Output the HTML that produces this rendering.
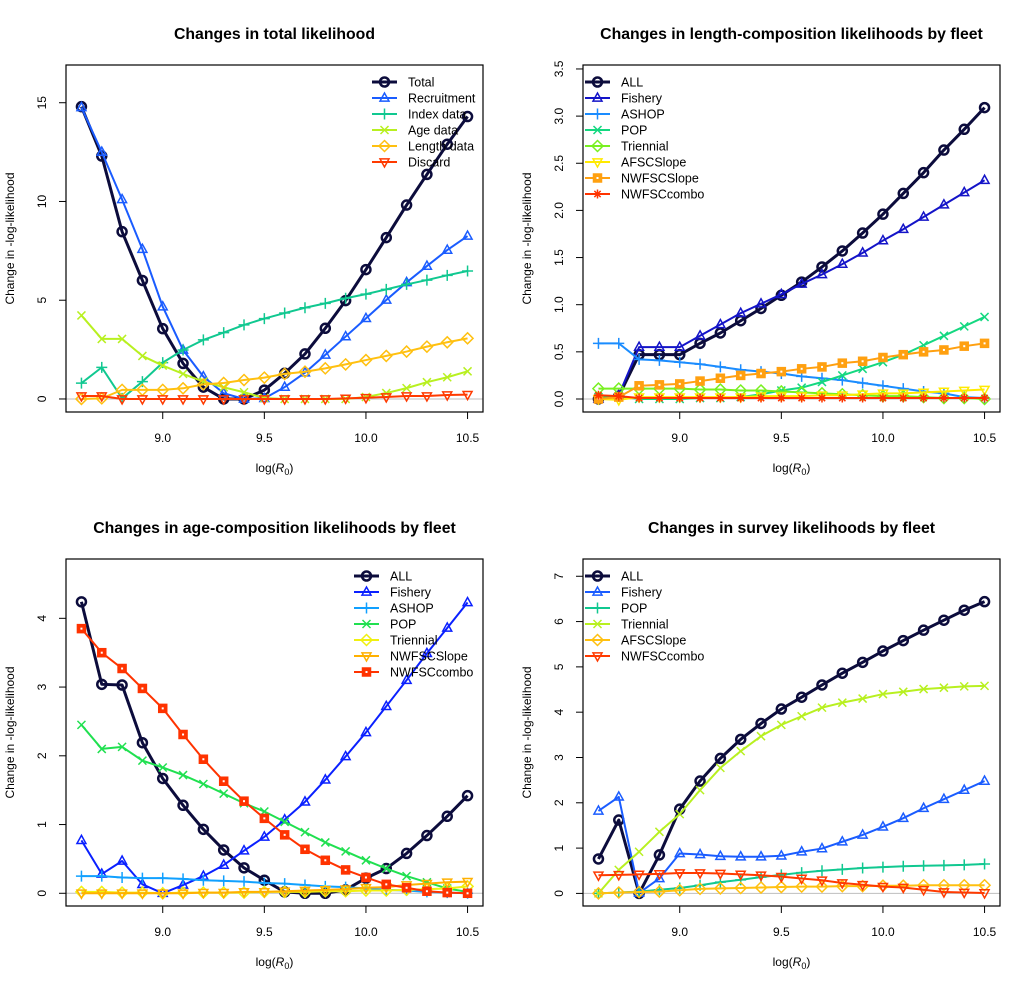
<!DOCTYPE html>
<html><head><meta charset="utf-8"><style>
body{margin:0;background:#fff;}
svg{display:block;font-family:"Liberation Sans",Arial,sans-serif;}
</style></head><body>
<svg id="chart" width="1034" height="988" viewBox="0 0 1034 988" xmlns="http://www.w3.org/2000/svg"></svg>
<script>
const xValues = [8.6,8.7,8.8,8.9,9.0,9.1,9.2,9.3,9.4,9.5,9.6,9.7,9.8,9.9,10.0,10.1,10.2,10.3,10.4,10.5];
const xTicks = [9.0,9.5,10.0,10.5];
const xTickLabels = ["9.0","9.5","10.0","10.5"];

// Panel 1: total likelihood
const p1Names = ["Total","Recruitment","Index data","Age data","Length data","Discard"];
const p1Total = [14.8,12.3,8.47,6.0,3.56,1.8,0.6,0,0,0.45,1.3,2.28,3.58,4.98,6.55,8.17,9.82,11.37,12.9,14.3];
const p1Recruit = [14.76,12.5,10.1,7.58,4.67,2.48,1.13,0.29,0,0.03,0.6,1.33,2.23,3.16,4.08,5.01,5.9,6.73,7.54,8.25];
const p1Index = [0.8,1.6,0.03,0.88,1.84,2.48,2.99,3.36,3.75,4.07,4.35,4.62,4.84,5.1,5.31,5.55,5.8,6.02,6.26,6.48];
const p1Age = [4.23,3.04,3.04,2.18,1.69,1.27,0.88,0.59,0.34,0.05,0,0,0,0,0.1,0.3,0.55,0.85,1.1,1.4];
const p1Length = [0,0.03,0.46,0.46,0.46,0.54,0.74,0.81,0.96,1.08,1.27,1.38,1.55,1.75,1.97,2.18,2.4,2.65,2.87,3.07];
const p1Discard = [0.15,0.15,0,0,0,0,0,0,0,0,0,0,0,0.03,0.06,0.1,0.15,0.15,0.2,0.22];
const p1Ticks = [0,5,10,15];
const p1TickLabels = ["0","5","10","15"];

// Panel 2: length-composition
const p2Names = ["ALL","Fishery","ASHOP","POP","Triennial","AFSCSlope","NWFSCSlope","NWFSCcombo"];
const p2All = [0,0.03,0.47,0.47,0.47,0.59,0.7,0.83,0.96,1.1,1.24,1.4,1.57,1.76,1.96,2.18,2.4,2.64,2.86,3.09];
const p2Fishery = [0,0.04,0.55,0.55,0.55,0.67,0.79,0.91,1.01,1.11,1.22,1.32,1.43,1.55,1.68,1.8,1.93,2.06,2.19,2.32];
const p2Ashop = [0.59,0.59,0.42,0.41,0.39,0.37,0.34,0.31,0.29,0.27,0.24,0.22,0.2,0.17,0.14,0.11,0.08,0.06,0.02,0.01];
const p2Pop = [0.02,0.03,0,0,0,0.01,0.01,0.02,0.05,0.09,0.12,0.18,0.25,0.32,0.39,0.47,0.57,0.67,0.77,0.87];
const p2Triennial = [0.11,0.11,0.11,0.11,0.11,0.1,0.1,0.09,0.09,0.08,0.07,0.06,0.05,0.04,0.03,0.03,0.02,0.01,0.01,0];
const p2Afsc = [0,-0.01,0.02,0.02,0.02,0.02,0.02,0.02,0.03,0.03,0.03,0.04,0.04,0.05,0.06,0.06,0.07,0.08,0.09,0.1];
const p2NwSlope = [0,0.02,0.14,0.15,0.16,0.19,0.22,0.25,0.27,0.29,0.32,0.34,0.38,0.4,0.44,0.47,0.5,0.52,0.56,0.59];
const p2NwCombo = [0.04,0.03,0.01,0.01,0.01,0.01,0.01,0.01,0.01,0.01,0.01,0.01,0.01,0.01,0.01,0.01,0.01,0.01,0.01,0.01];
const p2Ticks = [0,0.5,1,1.5,2,2.5,3,3.5];
const p2TickLabels = ["0.0","0.5","1.0","1.5","2.0","2.5","3.0","3.5"];

// Panel 3: age-composition
const p3Names = ["ALL","Fishery","ASHOP","POP","Triennial","NWFSCSlope","NWFSCcombo"];
const p3All = [4.24,3.04,3.03,2.19,1.67,1.28,0.93,0.63,0.37,0.19,0.02,0,0,0.05,0.22,0.36,0.58,0.84,1.12,1.42];
const p3Fishery = [0.77,0.28,0.47,0.13,0,0.12,0.25,0.41,0.62,0.82,1.07,1.33,1.65,1.99,2.34,2.72,3.1,3.49,3.86,4.23];
const p3Ashop = [0.25,0.25,0.23,0.22,0.22,0.21,0.19,0.18,0.17,0.15,0.14,0.12,0.1,0.09,0.07,0.05,0.04,0.02,0.01,0];
const p3Pop = [2.45,2.1,2.13,1.93,1.83,1.72,1.59,1.45,1.31,1.19,1.04,0.89,0.74,0.61,0.48,0.36,0.25,0.16,0.07,0.02];
const p3Triennial = [0.02,0.02,0.01,0.01,0,0.01,0.01,0.01,0.01,0.02,0.02,0.02,0.03,0.03,0.04,0.04,0.05,0.06,0.07,0.1];
const p3NwSlope = [0,0,0,0,0,0,0.01,0.01,0.02,0.02,0.03,0.04,0.05,0.06,0.08,0.09,0.12,0.14,0.16,0.17];
const p3NwCombo = [3.85,3.5,3.27,2.98,2.69,2.31,1.95,1.63,1.34,1.09,0.85,0.64,0.48,0.34,0.23,0.13,0.08,0.03,0.01,0];
const p3Ticks = [0,1,2,3,4];
const p3TickLabels = ["0","1","2","3","4"];

// Panel 4: survey
const p4Names = ["ALL","Fishery","POP","Triennial","AFSCSlope","NWFSCcombo"];
const p4All = [0.76,1.62,0,0.85,1.86,2.48,2.98,3.4,3.75,4.07,4.33,4.6,4.86,5.1,5.35,5.58,5.81,6.03,6.25,6.44];
const p4Fishery = [1.82,2.13,0.01,0.33,0.88,0.86,0.82,0.81,0.81,0.83,0.92,0.99,1.14,1.29,1.47,1.66,1.88,2.08,2.28,2.48];
const p4Pop = [0,0.02,0.04,0.08,0.12,0.18,0.25,0.3,0.36,0.41,0.46,0.5,0.53,0.56,0.58,0.6,0.61,0.62,0.63,0.65];
const p4Triennial = [0,0.52,0.92,1.36,1.75,2.28,2.77,3.14,3.47,3.72,3.91,4.1,4.21,4.3,4.4,4.45,4.51,4.54,4.57,4.58];
const p4Afsc = [0,0.02,0.03,0.04,0.07,0.1,0.11,0.12,0.13,0.14,0.15,0.15,0.16,0.16,0.17,0.17,0.18,0.18,0.18,0.18];
const p4NwCombo = [0.4,0.41,0.42,0.43,0.45,0.45,0.44,0.42,0.4,0.37,0.33,0.29,0.23,0.19,0.15,0.13,0.08,0.03,0.02,0.01];
const p4Ticks = [0,1,2,3,4,5,6,7];
const p4TickLabels = ["0","1","2","3","4","5","6","7"];

const NS = "http://www.w3.org/2000/svg";
const svg = document.getElementById('chart');
function mk(tag, attrs, parent){
  const e = document.createElementNS(NS, tag);
  for (const k in attrs) e.setAttribute(k, attrs[k]);
  (parent||svg).appendChild(e);
  return e;
}
function marker(g, pch, cx, cy, col, lw){
  const r = 4.5;
  let e;
  if (pch===1){ e = mk('circle',{cx:cx,cy:cy,r:r,fill:'none',stroke:col,'stroke-width':lw},g); }
  else if (pch===2){ e = mk('polygon',{points:`${cx},${cy-r-0.5} ${cx-r},${cy+r*0.7} ${cx+r},${cy+r*0.7}`,fill:'none',stroke:col,'stroke-width':lw},g); }
  else if (pch===3){ e = mk('path',{d:`M${cx-r-1},${cy}H${cx+r+1}M${cx},${cy-r-1}V${cy+r+1}`,stroke:col,'stroke-width':lw,fill:'none'},g); }
  else if (pch===4){ e = mk('path',{d:`M${cx-r+0.5},${cy-r+0.5}L${cx+r-0.5},${cy+r-0.5}M${cx-r+0.5},${cy+r-0.5}L${cx+r-0.5},${cy-r+0.5}`,stroke:col,'stroke-width':lw,fill:'none'},g); }
  else if (pch===5){ e = mk('polygon',{points:`${cx},${cy-r-1} ${cx+r+1},${cy} ${cx},${cy+r+1} ${cx-r-1},${cy}`,fill:'none',stroke:col,'stroke-width':lw},g); }
  else if (pch===6){ e = mk('polygon',{points:`${cx},${cy+r+0.5} ${cx-r},${cy-r*0.7} ${cx+r},${cy-r*0.7}`,fill:'none',stroke:col,'stroke-width':lw},g); }
  else if (pch===7){ e = mk('g',{},g);
    mk('rect',{x:cx-r+0.5,y:cy-r+0.5,width:2*r-1,height:2*r-1,fill:col,stroke:col,'stroke-width':lw},e);
    mk('rect',{x:cx-1,y:cy-1,width:2,height:2,fill:'#fff'},e); }
  else { e = mk('path',{d:`M${cx-r},${cy}H${cx+r}M${cx},${cy-r}V${cy+r}M${cx-r*0.7},${cy-r*0.7}L${cx+r*0.7},${cy+r*0.7}M${cx-r*0.7},${cy+r*0.7}L${cx+r*0.7},${cy-r*0.7}`,stroke:col,'stroke-width':lw,fill:'none'},g); }
  return e;
}

function panel(cfg){
  const {id,title,left,top,bottom,yLo,yHi,ticks,tickLabels,names,series,cols,pchs,legX,legY} = cfg;
  const right = left + 417;
  const sx = v => left + (v - 8.524) / (10.576 - 8.524) * (right - left);
  const sy = v => bottom - (v - yLo) / (yHi - yLo) * (bottom - top);
  const g = mk('g',{});
  
  
  const t = mk('text',{x:(left+right)/2,y:top-26,'text-anchor':'middle','font-size':'15.8','font-weight':'bold',fill:'#000'},g);
  t.textContent = title;
  
  
  const z = mk('line',{x1:left,x2:right,y1:sy(0),y2:sy(0),stroke:'#bebebe','stroke-width':1},g);
  
  
  const xa = mk('g',{},g);
  
  
  xTicks.forEach((v,i)=>{
    mk('line',{x1:sx(v),x2:sx(v),y1:bottom,y2:bottom+7,stroke:'#000','stroke-width':1},xa);
    const tl = mk('text',{x:sx(v),y:bottom+30,'text-anchor':'middle','font-size':'12',fill:'#000'},xa);
    tl.textContent = xTickLabels[i];
  });
  mk('line',{x1:sx(xTicks[0]),x2:sx(xTicks[xTicks.length-1]),y1:bottom,y2:bottom,stroke:'#000'},xa);
  const xt = mk('text',{x:(left+right)/2,y:bottom+60,'text-anchor':'middle','font-size':'12',fill:'#000'},xa);
  xt.innerHTML = 'log(<tspan font-style="italic">R</tspan><tspan font-size="9" dy="3">0</tspan><tspan dy="-3">)</tspan>';
  
  
  const ya = mk('g',{},g);
  
  
  ticks.forEach((v,i)=>{
    mk('line',{x1:left-7,x2:left,y1:sy(v),y2:sy(v),stroke:'#000'},ya);
    const tl = mk('text',{x:left-20,y:sy(v),'text-anchor':'middle','font-size':'12',fill:'#000',transform:`rotate(-90 ${left-20} ${sy(v)})`},ya);
    tl.textContent = tickLabels[i];
  });
  const yt = mk('text',{x:left-52,y:(top+bottom)/2,'text-anchor':'middle','font-size':'12',fill:'#000',transform:`rotate(-90 ${left-52} ${(top+bottom)/2})`},ya);
  yt.textContent = 'Change in -log-likelihood';
  
  
  series.forEach((arr,si)=>{
    const lw = si===0 ? 3 : 2;
    const sg = mk('g',{},g);
    
    
    const pts = arr.map((v,i)=>sx(xValues[i])+','+sy(v)).join(' ');
    mk('polyline',{points:pts,fill:'none',stroke:cols[si],'stroke-width':lw,'stroke-linejoin':'round'},sg);
    arr.forEach((v,i)=>{ marker(sg,pchs[si],sx(xValues[i]),sy(v),cols[si],lw===3?2.5:1.5); });
  });
  const bx = mk('rect',{x:left,y:top,width:right-left,height:bottom-top,fill:'none',stroke:'#000','stroke-width':1.2},g);
  
  
  const lg = mk('g',{},g);
  
  
  names.forEach((n,i)=>{
    const y = legY + i*16;
    const lw = i===0 ? 3 : 2;
    const le = mk('g',{},lg);
    
    
    mk('line',{x1:legX,x2:legX+25,y1:y,y2:y,stroke:cols[i],'stroke-width':lw},le);
    marker(le,pchs[i],legX+12.5,y,cols[i],lw===3?2.5:1.5);
    const tx = mk('text',{x:legX+36,y:y+4.5,'font-size':'12.5',fill:'#000'},le);
    tx.textContent = n;
  });
}

const navy = '#0c0c3c';
panel({id:'total',title:'Changes in total likelihood',left:66,top:65,bottom:412,yLo:-0.66,yHi:16.91,
  ticks:p1Ticks,tickLabels:p1TickLabels,names:p1Names,
  series:[p1Total,p1Recruit,p1Index,p1Age,p1Length,p1Discard],
  cols:[navy,'#1a5cff','#10c890','#b8f020','#ffc010','#ff3a00'],pchs:[1,2,3,4,5,6],legX:372,legY:82});
panel({id:'length-comp',title:'Changes in length-composition likelihoods by fleet',left:583,top:65,bottom:412,yLo:-0.138,yHi:3.542,
  ticks:p2Ticks,tickLabels:p2TickLabels,names:p2Names,
  series:[p2All,p2Fishery,p2Ashop,p2Pop,p2Triennial,p2Afsc,p2NwSlope,p2NwCombo],
  cols:[navy,'#1414c8','#1a8cff','#14d880','#78f020','#ffea00','#ffa010','#ff3300'],pchs:[1,2,3,4,5,6,7,8],legX:585,legY:82});
panel({id:'age-comp',title:'Changes in age-composition likelihoods by fleet',left:66,top:559,bottom:906,yLo:-0.185,yHi:4.863,
  ticks:p3Ticks,tickLabels:p3TickLabels,names:p3Names,
  series:[p3All,p3Fishery,p3Ashop,p3Pop,p3Triennial,p3NwSlope,p3NwCombo],
  cols:[navy,'#0a20ff','#10a0ff','#20e050','#f0f010','#ffb000','#ff3300'],pchs:[1,2,3,4,5,6,7],legX:354,legY:576});
panel({id:'survey',title:'Changes in survey likelihoods by fleet',left:583,top:559,bottom:906,yLo:-0.278,yHi:7.381,
  ticks:p4Ticks,tickLabels:p4TickLabels,names:p4Names,
  series:[p4All,p4Fishery,p4Pop,p4Triennial,p4Afsc,p4NwCombo],
  cols:[navy,'#1a5cff','#10c890','#b8f020','#ffc010','#ff3a00'],pchs:[1,2,3,4,5,6],legX:585,legY:576});
</script>
</body></html>
